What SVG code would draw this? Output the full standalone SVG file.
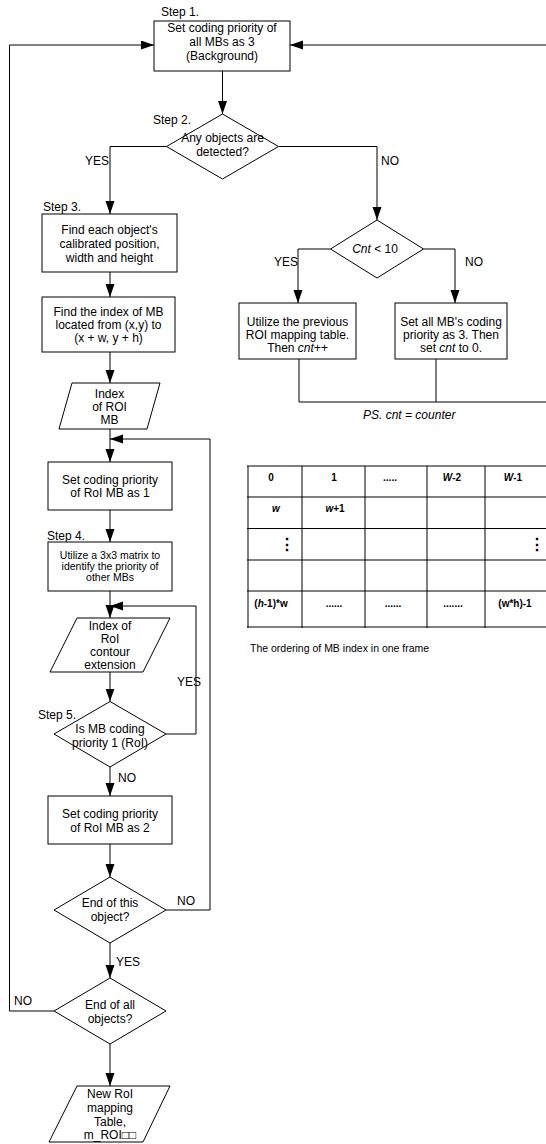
<svg xmlns="http://www.w3.org/2000/svg" width="546" height="1144" viewBox="0 0 546 1144">
<style>
text{font-family:"Liberation Sans",Arial,sans-serif;font-size:12px;fill:#000}
.c{text-anchor:middle}
.s{font-size:10.5px}
.t{font-size:10px;font-weight:bold;text-anchor:middle}
.i{font-style:italic}
.dots{font-size:16px}
.shape{fill:#fff;stroke:#000;stroke-width:1}
.ln{fill:none;stroke:#000;stroke-width:1}
.tb{stroke:#000;stroke-width:1}
</style>
<defs>
<marker id="ah" markerUnits="userSpaceOnUse" markerWidth="14" markerHeight="10" refX="13" refY="4.5" orient="auto"><path d="M0,0 L13,4.5 L0,9 z" fill="#000"/></marker>
</defs>
<g id="connectors">
<path class="ln" d="M54,1011 H9.5 V45 H154" marker-end="url(#ah)"/>
<path class="ln" d="M299,359 V402 H548 V45 H290" marker-end="url(#ah)"/>
<path class="ln" d="M436,359 V402"/>
<path class="ln" d="M222.5,71 V114" marker-end="url(#ah)"/>
<path class="ln" d="M166.5,146.5 H110 V214" marker-end="url(#ah)"/>
<path class="ln" d="M278.5,146.5 H377 V220" marker-end="url(#ah)"/>
<path class="ln" d="M330.5,249 H298 V303" marker-end="url(#ah)"/>
<path class="ln" d="M423.5,249 H455 V303" marker-end="url(#ah)"/>
<path class="ln" d="M110,272 V297" marker-end="url(#ah)"/>
<path class="ln" d="M110,352 V383" marker-end="url(#ah)"/>
<path class="ln" d="M110,429 V462" marker-end="url(#ah)"/>
<path class="ln" d="M166,910 H210 V439 H110" marker-end="url(#ah)"/>
<path class="ln" d="M110,510 V542" marker-end="url(#ah)"/>
<path class="ln" d="M110,591 V618" marker-end="url(#ah)"/>
<path class="ln" d="M166,734 H196 V606 H110" marker-end="url(#ah)"/>
<path class="ln" d="M110,672 V701.5" marker-end="url(#ah)"/>
<path class="ln" d="M110,767 V796" marker-end="url(#ah)"/>
<path class="ln" d="M110,844 V877" marker-end="url(#ah)"/>
<path class="ln" d="M110,943 V978" marker-end="url(#ah)"/>
<path class="ln" d="M110,1044 V1086" marker-end="url(#ah)"/>
<text x="85" y="165">YES</text>
<text x="381" y="165">NO</text>
<text x="274" y="266">YES</text>
<text x="465" y="266">NO</text>
<text x="177" y="686">YES</text>
<text x="118" y="782">NO</text>
<text x="177" y="905">NO</text>
<text x="116" y="966">YES</text>
<text x="14" y="1005">NO</text>
</g>
<g id="step1">
<text x="161" y="16">Step 1.</text>
<rect class="shape" x="154" y="21" width="136" height="50"/>
<text class="c" x="222" y="32">Set coding priority of</text>
<text class="c" x="222" y="46">all MBs as 3</text>
<text class="c" x="222" y="60">(Background)</text>
</g>
<g id="step2">
<text x="153" y="124">Step 2.</text>
<polygon class="shape" points="222.5,114 278.5,146.5 222.5,179 166.5,146.5"/>
<text class="c" x="222.5" y="142">Any objects are</text>
<text class="c" x="222.5" y="156">detected?</text>
</g>
<g id="cnt">
<polygon class="shape" points="377,220 423.5,249 377,278 330.5,249"/>
<text class="c" x="375" y="253"><tspan class="i">Cnt</tspan> &lt; 10</text>
</g>
<g id="reuse">
<rect class="shape" x="239" y="303" width="117" height="56"/>
<text class="c" x="297.5" y="326">Utilize the previous</text>
<text class="c" x="297.5" y="339">ROI mapping table.</text>
<text class="c" x="297.5" y="352">Then <tspan class="i">cnt++</tspan></text>
</g>
<g id="reset">
<rect class="shape" x="395" y="303" width="112" height="56"/>
<text class="c" x="451" y="326">Set all MB's coding</text>
<text class="c" x="451" y="339">priority as 3. Then</text>
<text class="c" x="451" y="352">set <tspan class="i">cnt</tspan> to 0.</text>
</g>
<g id="ps">
<text class="i" x="363" y="419">PS. cnt = counter</text>
</g>
<g id="step3">
<text x="43" y="211">Step 3.</text>
<rect class="shape" x="42" y="214" width="135" height="58"/>
<text class="c" x="109.5" y="234">Find each object's</text>
<text class="c" x="109.5" y="248">calibrated position,</text>
<text class="c" x="109.5" y="262">width and height</text>
</g>
<g id="findindex">
<rect class="shape" x="42" y="297" width="133" height="55"/>
<text class="c" x="108.5" y="316">Find the index of MB</text>
<text class="c" x="108.5" y="329">located from (x,y) to</text>
<text class="c" x="108.5" y="342">(x + w, y + h)</text>
</g>
<g id="roiindex">
<polygon class="shape" points="72,383 160,383 147,429 59,429"/>
<text class="c" x="109.5" y="398">Index</text>
<text class="c" x="109.5" y="411">of ROI</text>
<text class="c" x="109.5" y="424">MB</text>
</g>
<g id="prio1">
<rect class="shape" x="48" y="462" width="124" height="48"/>
<text class="c" x="110" y="484">Set coding priority</text>
<text class="c" x="110" y="497">of RoI MB as 1</text>
</g>
<g id="step4">
<text x="47" y="540">Step 4.</text>
<rect class="shape" x="48" y="542" width="124" height="49"/>
<text class="c s" x="110" y="559">Utilize a 3x3 matrix to</text>
<text class="c s" x="110" y="570">identify the priority of</text>
<text class="c s" x="110" y="581">other MBs</text>
</g>
<g id="contour">
<polygon class="shape" points="77,618 170,618 143,672 50,672"/>
<text class="c" x="110" y="630">Index of</text>
<text class="c" x="110" y="643">RoI</text>
<text class="c" x="110" y="656">contour</text>
<text class="c" x="110" y="669">extension</text>
</g>
<g id="step5">
<text x="38" y="719">Step 5.</text>
<polygon class="shape" points="110,701.5 166,734 110,767 54,734"/>
<text class="c" x="110" y="733">Is MB coding</text>
<text class="c" x="110" y="747">priority 1 (RoI)</text>
</g>
<g id="prio2">
<rect class="shape" x="48" y="796" width="124" height="48"/>
<text class="c" x="110" y="818">Set coding priority</text>
<text class="c" x="110" y="832">of RoI MB as 2</text>
</g>
<g id="endobj">
<polygon class="shape" points="110,877 166,910 110,943 54,910"/>
<text class="c" x="110" y="907">End of this</text>
<text class="c" x="110" y="921">object?</text>
</g>
<g id="endall">
<polygon class="shape" points="110,978 166,1011 110,1044 54,1011"/>
<text class="c" x="110" y="1009">End of all</text>
<text class="c" x="110" y="1023">objects?</text>
</g>
<g id="newtable">
<polygon class="shape" points="77,1086 170,1086 143,1142 49,1142"/>
<text class="c" x="110" y="1098">New RoI</text>
<text class="c" x="110" y="1112">mapping</text>
<text class="c" x="110" y="1126">Table,</text>
<text class="c" x="110" y="1139">m_ROI□□</text>
</g>
<g id="mbtable">
<line class="tb" x1="247" y1="466" x2="546" y2="466"/>
<line class="tb" x1="247" y1="497" x2="546" y2="497"/>
<line class="tb" x1="247" y1="528.5" x2="546" y2="528.5"/>
<line class="tb" x1="247" y1="560" x2="546" y2="560"/>
<line class="tb" x1="247" y1="591" x2="546" y2="591"/>
<line class="tb" x1="247" y1="627" x2="546" y2="627"/>
<line class="tb" x1="248" y1="466" x2="248" y2="628"/>
<line class="tb" x1="302" y1="466" x2="302" y2="628"/>
<line class="tb" x1="365" y1="466" x2="365" y2="628"/>
<line class="tb" x1="427" y1="466" x2="427" y2="628"/>
<line class="tb" x1="485" y1="466" x2="485" y2="628"/>
<text class="t" x="271" y="481">0</text>
<text class="t" x="334" y="481">1</text>
<text class="t" x="390" y="481">.....</text>
<text class="t" x="452" y="481"><tspan class="i">W</tspan>-2</text>
<text class="t" x="513" y="481"><tspan class="i">W</tspan>-1</text>
<text class="t i" x="276" y="512">w</text>
<text class="t" x="335" y="512"><tspan class="i">w</tspan>+1</text>
<text class="t dots" x="287" y="550">⋮</text>
<text class="t dots" x="537" y="550">⋮</text>
<text class="t" x="271" y="607">(<tspan class="i">h</tspan>-1)*w</text>
<text class="t" x="334" y="607">......</text>
<text class="t" x="393" y="607">......</text>
<text class="t" x="453" y="607">.......</text>
<text class="t" x="515" y="607">(w*h)-1</text>
<text x="250" y="652" style="font-size:10.5px">The ordering of MB index in one frame</text>
</g>
</svg>
